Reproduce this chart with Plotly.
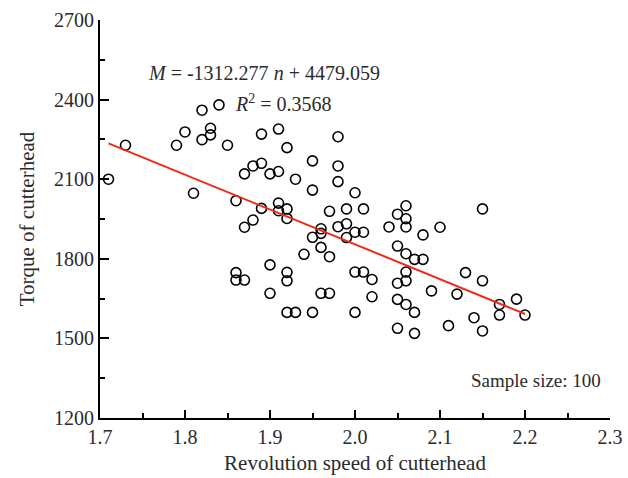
import plotly.graph_objects as go

speed = [1.71, 1.73, 1.79, 1.80, 1.81, 1.82, 1.84, 1.82, 1.83, 1.83,
         1.85, 1.86, 1.87, 1.88, 1.89, 1.89, 1.90, 1.89, 1.88, 1.87,
         1.86, 1.86, 1.87, 1.90, 1.90, 1.91, 1.92, 1.91, 1.93, 1.95,
         1.95, 1.98, 1.98, 1.98, 2.00, 1.91, 1.91, 1.92, 1.92, 1.97,
         1.99, 2.01, 1.96, 1.96, 1.95, 1.98, 1.99, 1.99, 2.00, 2.01,
         1.96, 1.94, 2.04, 2.05, 2.06, 2.06, 2.06, 2.08, 2.10, 2.05,
         1.97, 1.92, 1.92, 1.96, 1.97, 1.92, 1.93, 1.95, 2.00, 2.00,
         2.01, 2.02, 2.02, 2.06, 2.07, 2.08, 2.06, 2.05, 2.06, 2.09,
         2.05, 2.06, 2.07, 2.05, 2.07, 2.15, 2.13, 2.15, 2.12, 2.17,
         2.19, 2.17, 2.20, 2.14, 2.11, 2.15]
torque = [2100, 2228, 2228, 2278, 2047, 2360, 2380, 2249, 2292, 2267,
          2228, 2019, 2120, 2150, 2160, 2270, 2120, 1990, 1946, 1919,
          1748, 1720, 1720, 1777, 1670, 2289, 2219, 2129, 2100, 2169,
          2059, 2260, 2150, 2091, 2049, 2010, 1981, 1988, 1952, 1979,
          1988, 1988, 1913, 1896, 1881, 1921, 1932, 1880, 1900, 1900,
          1843, 1817, 1920, 1968, 2000, 1951, 1920, 1890, 1919, 1848,
          1808, 1749, 1717, 1670, 1670, 1598, 1598, 1598, 1598, 1750,
          1750, 1722, 1657, 1819, 1798, 1798, 1750, 1708, 1717, 1679,
          1647, 1628, 1598, 1538, 1519, 1988, 1748, 1717, 1667, 1628,
          1648, 1588, 1588, 1578, 1548, 1528]

slope = -1312.277
intercept = 4479.059
fit_x = [min(speed), max(speed)]
fit_y = [slope * v + intercept for v in fit_x]

x_ticks = [1.7, 1.8, 1.9, 2.0, 2.1, 2.2, 2.3]
y_ticks = [1200, 1500, 1800, 2100, 2400, 2700]

FONT = "Liberation Serif"
TXT = "#2b2b2b"

fig = go.Figure()
fig.add_trace(go.Scatter(
    x=speed, y=torque, mode="markers",
    marker=dict(symbol="circle-open", size=10, color="black", line=dict(width=1.6, color="black")),
    showlegend=False, cliponaxis=False))
fig.add_trace(go.Scatter(
    x=fit_x, y=fit_y, mode="lines",
    line=dict(color="#ee2a1b", width=2), showlegend=False))

axis_common = dict(showgrid=False, zeroline=False, showline=True, linecolor="black", linewidth=2,
                   ticks="inside", tickcolor="black", tickwidth=2, automargin=False,
                   tickfont=dict(family=FONT, size=20, color=TXT))
fig.update_xaxes(range=[1.7, 2.3], tickvals=x_ticks, ticktext=[f"{v:.1f}" for v in x_ticks], ticklen=8,
                 minor=dict(dtick=0.05, ticks="inside", ticklen=5, tickwidth=2, tickcolor="black"),
                 title=dict(text="Revolution speed of cutterhead", font=dict(family=FONT, size=21, color=TXT), standoff=8),
                 **axis_common)
fig.update_yaxes(range=[1200, 2700], tickvals=y_ticks, ticklen=9,
                 minor=dict(dtick=150, ticks="inside", ticklen=5, tickwidth=2, tickcolor="black"),
                 title=dict(text="Torque of cutterhead", font=dict(family=FONT, size=21, color=TXT), standoff=14),
                 **axis_common)

fig.add_annotation(xref="x", yref="y", x=1.754, y=2500, xanchor="left", yanchor="middle",
                   text="<i>M</i> = -1312.277 <i>n</i> + 4479.059", showarrow=False,
                   font=dict(family=FONT, size=20, color=TXT))
fig.add_annotation(xref="x", yref="y", x=1.8565, y=2388, xanchor="left", yanchor="middle",
                   text="<i>R</i><sup>2</sup> = 0.3568", showarrow=False,
                   font=dict(family=FONT, size=20, color=TXT))
fig.add_annotation(xref="x", yref="y", x=2.292, y=1340, xanchor="right", yanchor="middle",
                   text="Sample size: 100", showarrow=False,
                   font=dict(family=FONT, size=19, color=TXT))

fig.update_layout(width=628, height=478, margin=dict(l=100, r=18, t=20, b=60),
                  plot_bgcolor="white", paper_bgcolor="white")
fig.write_html("out.html")
